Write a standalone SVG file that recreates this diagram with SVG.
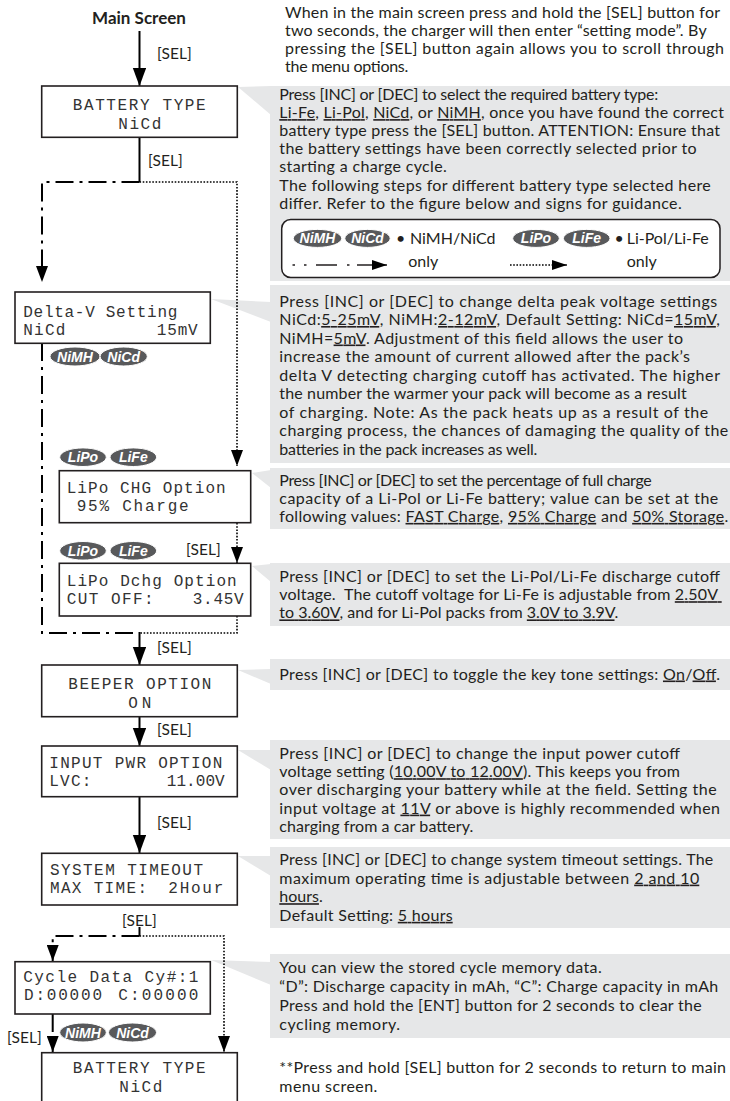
<svg xmlns="http://www.w3.org/2000/svg" width="730" height="1101" viewBox="0 0 730 1101">
<defs>
<style>
.lcdbox{fill:#fff;stroke:#231f20;stroke-width:1.6}
.lcd{font-family:"Liberation Mono",monospace;font-size:16px;fill:#333}
.t{font-family:Lato,"Liberation Sans",sans-serif;font-size:16px;fill:#231f20}
.u{text-decoration:underline}
.co{fill:#e6e7e8}
.bd{fill:#58595b;stroke:#fff;stroke-width:1}
.bt{font-family:"Liberation Sans",Arial,sans-serif;font-size:14px;font-weight:bold;font-style:italic;fill:#fff;text-anchor:middle}
.sel{font-family:Lato,"Liberation Sans",sans-serif;font-size:15.5px;fill:#231f20}
.solid{fill:none;stroke:#000;stroke-width:2}
.dd{fill:none;stroke:#000;stroke-width:2;stroke-dasharray:18 6 3 6}
.dot{fill:none;stroke:#000;stroke-width:1.6;stroke-dasharray:1.6 1.6}
.lg{fill:none;stroke:#231f20;stroke-width:1.5}
</style>
<marker id="ah" markerUnits="userSpaceOnUse" markerWidth="18" markerHeight="14" refX="18" refY="6.7" orient="auto"><path d="M0,0 L18,6.7 L0,13.4 Z" fill="#000"/></marker>
<marker id="ah2" markerUnits="userSpaceOnUse" markerWidth="16" markerHeight="12" refX="16" refY="6" orient="auto"><path d="M0,0 L16,6 L0,12 Z" fill="#000"/></marker>
<marker id="ah3" markerUnits="userSpaceOnUse" markerWidth="15" markerHeight="10" refX="15" refY="5" orient="auto"><path d="M0,0 L15,5 L0,10 Z" fill="#000"/></marker>
</defs>
<rect width="730" height="1101" fill="#fff"/>

<g id="callouts">
<rect class="co" x="270" y="86" width="460" height="195"/>
<polygon class="co" points="238,87 271,86 271,115"/>
<rect class="co" x="270" y="285" width="460" height="178"/>
<polygon class="co" points="211,299 271,302 271,322"/>
<rect class="co" x="270" y="468" width="460" height="61"/>
<polygon class="co" points="252,473 271,470 271,488"/>
<rect class="co" x="270" y="563" width="460" height="63"/>
<polygon class="co" points="252,566 271,564 271,582"/>
<rect class="co" x="270" y="659" width="460" height="31"/>
<polygon class="co" points="238,670 271,669 271,684"/>
<rect class="co" x="270" y="740" width="460" height="99"/>
<polygon class="co" points="238,750 271,750 271,770"/>
<rect class="co" x="270" y="847" width="460" height="81"/>
<polygon class="co" points="238,856 271,856 271,876"/>
<rect class="co" x="270" y="954" width="460" height="84"/>
<polygon class="co" points="211,960 271,962 271,985"/>
</g>

<g id="connectors">
<path class="solid" d="M139.5,31 V86" marker-end="url(#ah)"/>
<path class="solid" d="M139.5,137 V182"/>
<path class="dd" d="M139.5,182 H42 V282" marker-end="url(#ah2)"/>
<path class="dd" d="M42,343 V633 H139.5"/>
<path class="dot" d="M139.5,182 H237 V466" marker-end="url(#ah2)"/>
<path class="dot" d="M237,523 V563" marker-end="url(#ah2)"/>
<path class="dot" d="M237,616 V633 H139.5"/>
<path class="solid" d="M139.5,632 V665" marker-end="url(#ah)"/>
<path class="solid" d="M139.5,717 V746" marker-end="url(#ah)"/>
<path class="solid" d="M139.5,797 V853" marker-end="url(#ah)"/>
<path class="solid" d="M139.5,927 V936"/>
<path class="dd" d="M139.5,936 H52.7 V961" marker-end="url(#ah2)"/>
<path class="dot" d="M139.5,936 H224 V1052" marker-end="url(#ah2)"/>
<path class="dd" d="M52.7,1014 V1052" marker-end="url(#ah2)"/>
<text class="sel" x="157" y="59">[SEL]</text>
<text class="sel" x="148" y="166">[SEL]</text>
<text class="sel" x="186" y="555">[SEL]</text>
<text class="sel" x="157" y="653">[SEL]</text>
<text class="sel" x="157" y="735">[SEL]</text>
<text class="sel" x="157" y="828">[SEL]</text>
<text class="sel" x="122" y="926">[SEL]</text>
<text class="sel" x="7" y="1043">[SEL]</text>
</g>

<g id="main-screen">
<text x="139" y="24" text-anchor="middle" style="font-family:Lato,'Liberation Sans',sans-serif;font-size:17px;font-weight:bold;fill:#231f20">Main Screen</text>
</g>

<g id="battery-type">
<rect class="lcdbox" x="41.7" y="86" width="195.6" height="51.3"/>
<text class="lcd" x="72.7" y="110" textLength="133">BATTERY TYPE</text>
<text class="lcd" x="118.3" y="129" textLength="43">NiCd</text>
</g>

<g id="delta-v">
<rect class="lcdbox" x="15" y="292" width="195.3" height="51.3"/>
<text class="lcd" x="23.3" y="317" textLength="154">Delta-V Setting</text>
<text class="lcd" x="23.3" y="335" textLength="42">NiCd</text>
<text class="lcd" x="156.7" y="335" textLength="41">15mV</text>
</g>
<g id="badges-deltav">
<ellipse class="bd" cx="75" cy="356.5" rx="25" ry="9.5"/>
<text class="bt" x="75" y="361.5">NiMH</text>
<ellipse class="bd" cx="123.7" cy="356.5" rx="23.6" ry="9.5"/>
<text class="bt" x="123.7" y="361.5">NiCd</text>
</g>

<g id="lipo-chg">
<ellipse class="bd" cx="83" cy="457.2" rx="23.3" ry="9.3"/>
<text class="bt" x="83" y="462.2">LiPo</text>
<ellipse class="bd" cx="133.3" cy="457.2" rx="23.3" ry="9.3"/>
<text class="bt" x="133.3" y="462.2">LiFe</text>
<rect class="lcdbox" x="59.3" y="470.7" width="191.4" height="52"/>
<text class="lcd" x="66.7" y="492.7" textLength="159">LiPo CHG Option</text>
<text class="lcd" x="76.7" y="510.7" textLength="112">95% Charge</text>
</g>

<g id="lipo-dchg">
<ellipse class="bd" cx="83" cy="550.8" rx="23.3" ry="9.3"/>
<text class="bt" x="83" y="555.8">LiPo</text>
<ellipse class="bd" cx="133.3" cy="550.8" rx="23.3" ry="9.3"/>
<text class="bt" x="133.3" y="555.8">LiFe</text>
<rect class="lcdbox" x="59.3" y="563.3" width="191.4" height="52.7"/>
<text class="lcd" x="66.7" y="586" textLength="170">LiPo Dchg Option</text>
<text class="lcd" x="66.7" y="604" textLength="87">CUT OFF:</text>
<text class="lcd" x="192.7" y="604" textLength="51">3.45V</text>
</g>

<g id="beeper">
<rect class="lcdbox" x="41.7" y="665" width="195.6" height="51.7"/>
<text class="lcd" x="68.3" y="689" textLength="143">BEEPER OPTION</text>
<text class="lcd" x="128.3" y="708" textLength="23">ON</text>
</g>

<g id="input-pwr">
<rect class="lcdbox" x="41.7" y="746" width="195.6" height="50.7"/>
<text class="lcd" x="49.3" y="767.7" textLength="173">INPUT PWR OPTION</text>
<text class="lcd" x="49.3" y="785.7" textLength="42">LVC:</text>
<text class="lcd" x="166.7" y="785.7" textLength="58">11.00V</text>
</g>

<g id="system-timeout">
<rect class="lcdbox" x="41.7" y="853.3" width="195.6" height="51.7"/>
<text class="lcd" x="50" y="875" textLength="153">SYSTEM TIMEOUT</text>
<text class="lcd" x="50" y="893" textLength="97">MAX TIME:</text>
<text class="lcd" x="168.3" y="893" textLength="55">2Hour</text>
</g>

<g id="cycle-data">
<rect class="lcdbox" x="15" y="961.7" width="195.3" height="52.3"/>
<text class="lcd" x="23.3" y="981.7" textLength="175">Cycle Data Cy#:1</text>
<text class="lcd" x="24" y="1000" textLength="78">D:00000</text>
<text class="lcd" x="118.3" y="1000" textLength="80">C:00000</text>
</g>
<g id="badges-cycle">
<ellipse class="bd" cx="83" cy="1032.5" rx="23.3" ry="9.5"/>
<text class="bt" x="83" y="1037.5">NiMH</text>
<ellipse class="bd" cx="132.5" cy="1032.5" rx="24" ry="9.5"/>
<text class="bt" x="132.5" y="1037.5">NiCd</text>
</g>

<g id="battery-type-end">
<rect class="lcdbox" x="41.7" y="1052.7" width="195.6" height="52"/>
<text class="lcd" x="72.7" y="1073.3" textLength="133">BATTERY TYPE</text>
<text class="lcd" x="119.3" y="1091.7" textLength="43">NiCd</text>
</g>

<g id="intro-text">
<text class="t" x="285" y="17.8" textLength="435">When in the main screen press and hold the [SEL] button for</text>
<text class="t" x="285" y="35.9" textLength="421.7">two seconds, the charger will then enter “setting mode”. By</text>
<text class="t" x="285" y="54" textLength="439">pressing the [SEL] button again allows you to scroll through</text>
<text class="t" x="285" y="72.1" textLength="123.3">the menu options.</text>
</g>

<g id="callout-battery-type">
<text class="t" x="279.3" y="100" textLength="379">Press [INC] or [DEC] to select the required battery type:</text>
<text class="t" x="279.3" y="118.1" textLength="444.7"><tspan class="u">Li-Fe</tspan>, <tspan class="u">Li-Pol</tspan>, <tspan class="u">NiCd</tspan>, or <tspan class="u">NiMH</tspan>, once you have found the correct</text>
<text class="t" x="279.3" y="136.2" textLength="440.7">battery type press the [SEL] button. ATTENTION: Ensure that</text>
<text class="t" x="279.3" y="154.3" textLength="417.4">the battery settings have been correctly selected prior to</text>
<text class="t" x="279.3" y="172.4" textLength="167.4">starting a charge cycle.</text>
<text class="t" x="279.3" y="190.5" textLength="431.4">The following steps for different battery type selected here</text>
<text class="t" x="279.3" y="208.6" textLength="402.4">differ. Refer to the figure below and signs for guidance.</text>
</g>

<g id="legend">
<rect x="281.7" y="219.5" width="438.3" height="58" rx="9" fill="#fff" stroke="#231f20" stroke-width="1.5"/>
<ellipse class="bd" cx="317.5" cy="238.4" rx="24.2" ry="9"/>
<text class="bt" x="317.5" y="243.4">NiMH</text>
<ellipse class="bd" cx="367.5" cy="238.4" rx="22.7" ry="9"/>
<text class="bt" x="367.5" y="243.4">NiCd</text>
<text class="t" x="396" y="244">•</text>
<text class="t" x="410" y="244">NiMH/NiCd</text>
<ellipse class="bd" cx="536" cy="238.4" rx="23.3" ry="9"/>
<text class="bt" x="536" y="243.4">LiPo</text>
<ellipse class="bd" cx="586.7" cy="238.4" rx="23.3" ry="9"/>
<text class="bt" x="586.7" y="243.4">LiFe</text>
<text class="t" x="614.5" y="244">•</text>
<text class="t" x="626.7" y="244">Li-Pol/Li-Fe</text>
<path class="lg" stroke-width="2" d="M292.5,265 h2.5 M304,265 h2.5 M316,265 h21 M347,265 h2.5"/>
<path class="lg" stroke-width="2" d="M357,265 H387" marker-end="url(#ah3)"/>
<text class="t" x="408.3" y="267">only</text>
<path class="dot" stroke-width="1.4" d="M510,265 H554"/>
<path class="lg" stroke-width="1" d="M552,265 H567" marker-end="url(#ah3)"/>
<text class="t" x="626.7" y="267">only</text>
</g>

<g id="callout-delta-v">
<text class="t" x="279.3" y="306.5" textLength="438">Press [INC] or [DEC] to change delta peak voltage settings</text>
<text class="t" x="279.3" y="325" textLength="440.7">NiCd:<tspan class="u">5-25mV</tspan>, NiMH:<tspan class="u">2-12mV</tspan>, Default Setting: NiCd=<tspan class="u">15mV</tspan>,</text>
<text class="t" x="279.3" y="343.5" textLength="403.7">NiMH=<tspan class="u">5mV</tspan>. Adjustment of this field allows the user to</text>
<text class="t" x="279.3" y="362" textLength="410.7">increase the amount of current allowed after the pack’s</text>
<text class="t" x="279.3" y="380.5" textLength="440.7">delta V detecting charging cutoff has activated.  The higher</text>
<text class="t" x="279.3" y="399" textLength="407.4">the number the warmer your pack will become as a result</text>
<text class="t" x="279.3" y="417.5" textLength="429">of charging. Note: As the pack heats up as a result of the</text>
<text class="t" x="279.3" y="436" textLength="449">charging process, the chances of damaging the quality of the</text>
<text class="t" x="279.3" y="454.5" textLength="258">batteries in the pack increases as well.</text>
</g>

<g id="callout-lipo-chg">
<text class="t" x="279.3" y="485.5" textLength="372.4">Press [INC] or [DEC] to set the percentage of full charge</text>
<text class="t" x="279.3" y="503.7" textLength="439">capacity of a Li-Pol or Li-Fe battery; value can be set at the</text>
<text class="t" x="279.3" y="521.9" textLength="449">following values: <tspan class="u">FAST Charge</tspan>, <tspan class="u">95% Charge</tspan> and <tspan class="u">50% Storage</tspan>.</text>
</g>

<g id="callout-lipo-dchg">
<text class="t" x="279.3" y="582" textLength="440.7">Press [INC] or [DEC] to set the Li-Pol/Li-Fe discharge cutoff</text>
<text class="t" x="279.3" y="600.2" textLength="442.4" xml:space="preserve">voltage.  The cutoff voltage for Li-Fe is adjustable from <tspan class="u">2.50V </tspan></text>
<text class="t" x="279.3" y="618.4" textLength="339"><tspan class="u">to 3.60V</tspan>, and for Li-Pol packs from <tspan class="u">3.0V to 3.9V</tspan>.</text>
</g>

<g id="callout-beeper">
<text class="t" x="279.3" y="679.5" textLength="440.7">Press [INC] or [DEC] to toggle the key tone settings: <tspan class="u">On</tspan>/<tspan class="u">Off</tspan>.</text>
</g>

<g id="callout-input-pwr">
<text class="t" x="279.3" y="759" textLength="400.7">Press [INC] or [DEC] to change the input power cutoff</text>
<text class="t" x="279.3" y="777.2" textLength="400.7">voltage setting (<tspan class="u">10.00V to 12.00V</tspan>). This keeps you from</text>
<text class="t" x="279.3" y="795.4" textLength="437.4">over discharging your battery while at the field. Setting the</text>
<text class="t" x="279.3" y="813.6" textLength="440.7">input voltage at <tspan class="u">11V</tspan> or above is highly recommended when</text>
<text class="t" x="279.3" y="831.8" textLength="194">charging from a car battery.</text>
</g>

<g id="callout-system-timeout">
<text class="t" x="279.3" y="865" textLength="434">Press [INC] or [DEC] to change system timeout settings. The</text>
<text class="t" x="279.3" y="883.6" textLength="420">maximum operating time is adjustable between <tspan class="u">2 and 10</tspan></text>
<text class="t" x="279.3" y="902.2"><tspan class="u">hours</tspan>.</text>
<text class="t" x="279.3" y="920.8" textLength="173.4">Default Setting: <tspan class="u">5 hours</tspan></text>
</g>

<g id="callout-cycle-data">
<text class="t" x="279.3" y="973.3" textLength="322.4">You can view the stored cycle memory data.</text>
<text class="t" x="279.3" y="992.2" textLength="439">“D”: Discharge capacity in mAh, “C”: Charge capacity in mAh</text>
<text class="t" x="279.3" y="1011.1" textLength="422.4">Press and hold the [ENT] button for 2 seconds to clear the</text>
<text class="t" x="279.3" y="1030" textLength="120.7">cycling memory.</text>
</g>

<g id="note">
<text class="t" x="279.3" y="1073.3" textLength="446.7">**Press and hold [SEL] button for 2 seconds to return to main</text>
<text class="t" x="279.3" y="1091.7" textLength="98">menu screen.</text>
</g>
</svg>
